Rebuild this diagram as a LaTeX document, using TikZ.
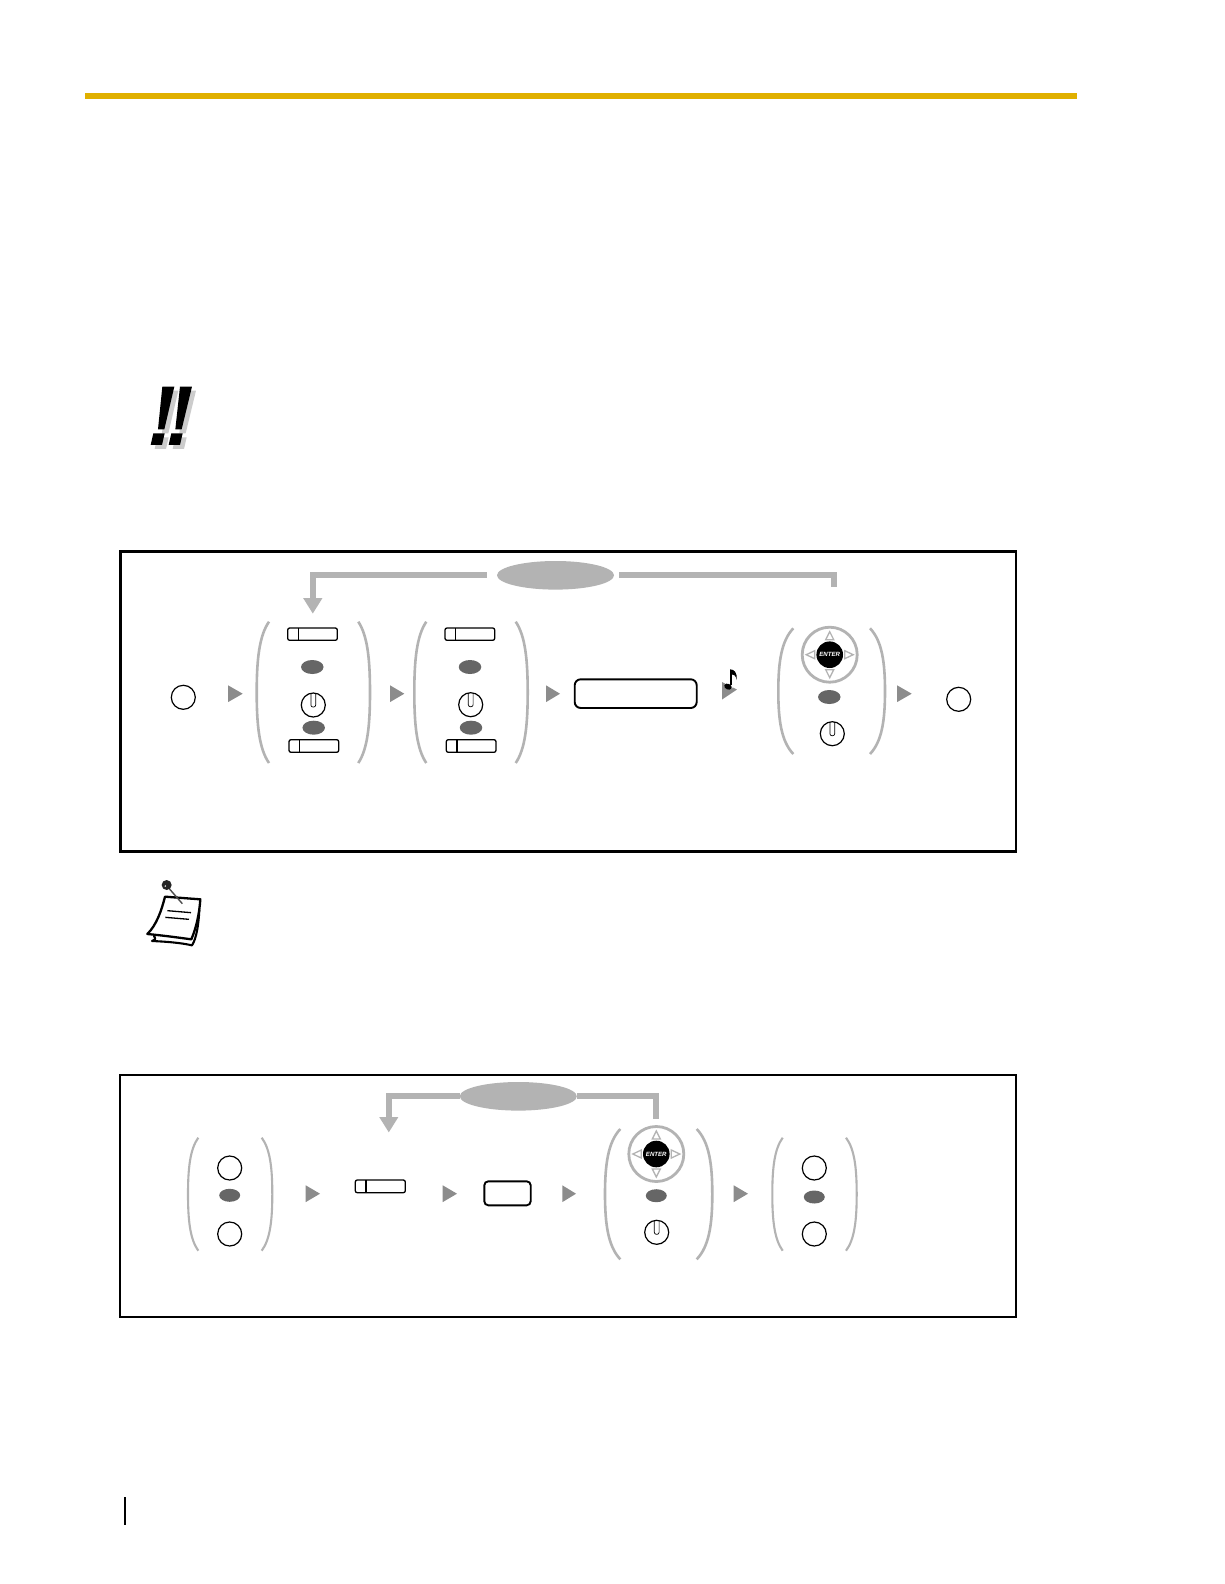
\documentclass[tikz,border=0pt]{standalone}
\usepackage{fontspec}
\setmainfont{Liberation Sans}
\usetikzlibrary{arrows.meta,shapes.geometric}
\definecolor{lightg}{HTML}{B3B3B3}
\definecolor{triang}{HTML}{8C8C8C}
\definecolor{ovalg}{HTML}{666666}
\definecolor{barg}{HTML}{E0B000}
\tikzset{
  framebox/.style={draw=black,line width=2.6pt,fill=none},
  framethin/.style={draw=black,line width=2pt,fill=none},
  keycircle/.style={circle,draw=black,line width=1.2pt,fill=white,minimum size=24pt,inner sep=0pt,outer sep=0pt},
  oval/.style={ellipse,fill=ovalg,minimum width=22.5pt,minimum height=14pt,inner sep=0pt,outer sep=0pt},
  repoval/.style={ellipse,fill=lightg,minimum width=117pt,minimum height=28.6pt,inner sep=0pt,outer sep=0pt},
  conn/.style={draw=lightg,line width=6pt},
  connhead/.style={-{Triangle[width=18pt,length=15.5pt]}},
  bracket/.style={draw=lightg,line width=2.6pt},
  softbtn/.style={draw=black,line width=1.3pt,fill=white,rounded corners=2pt},
  softdiv/.style={draw=black,line width=1.3pt},
  display/.style={draw=black,line width=1.9pt,fill=white,rounded corners=6pt},
  flowtri/.style={fill=triang},
  entertri/.style={draw=lightg,line width=1.3pt,fill=white,line join=miter},
}
% parenthesis pair: xl tip, xl extreme, xr tip, xr extreme, y top, y bottom
\newcommand\parenpair[6]{%
  \draw[bracket] (#1,#5) .. controls ({#2+0.2*(#1-#2)},{#5+0.10*(#6-#5)}) and (#2,{#5+0.27*(#6-#5)}) .. (#2,{(#5+#6)/2})
     .. controls (#2,{#6-0.27*(#6-#5)}) and ({#2+0.2*(#1-#2)},{#6-0.10*(#6-#5)}) .. (#1,#6);
  \draw[bracket] (#3,#5) .. controls ({#4+0.2*(#3-#4)},{#5+0.10*(#6-#5)}) and (#4,{#5+0.27*(#6-#5)}) .. (#4,{(#5+#6)/2})
     .. controls (#4,{#6-0.27*(#6-#5)}) and ({#4+0.2*(#3-#4)},{#6-0.10*(#6-#5)}) .. (#3,#6);
}
\newcommand\flowarrow[3]{\fill[flowtri] (#1,{#3-8.4}) -- (#2,#3) -- (#1,{#3+8.4}) -- cycle;}
% soft button: x1 x2 y1 y2 xdiv
\newcommand\softbutton[5]{%
  \draw[softbtn] (#1,#3) rectangle (#2,#4);
  \draw[softdiv] (#5,#3) -- (#5,#4);
}
% hold key: name x y
\newcommand\holdkey[3]{%
  \node[keycircle] (#1) at (#2,#3) {};
  \draw[draw=black,line width=.7pt,rounded corners=2pt] ({#2-2.4},{#3-11.6}) -- ({#2-2.4},{#3+2}) -- ({#2+2.4},{#3+2}) -- ({#2+2.4},{#3-11.6});
}
% enter key: name x y
\newcommand\enterkey[3]{%
  \node[circle,draw=lightg,line width=2.8pt,minimum size=55pt,inner sep=0pt,outer sep=0pt] (#1ring) at (#2,#3) {};
  \draw[entertri] ({#2-4},{#3-15}) -- ({#2+4},{#3-15}) -- (#2,{#3-23}) -- cycle;
  \draw[entertri] ({#2-4},{#3+15}) -- ({#2+4},{#3+15}) -- (#2,{#3+23}) -- cycle;
  \draw[entertri] ({#2-15},{#3-4}) -- ({#2-15},{#3+4}) -- ({#2-23.5},#3) -- cycle;
  \draw[entertri] ({#2+15},{#3-4}) -- ({#2+15},{#3+4}) -- ({#2+23.5},#3) -- cycle;
  \node[circle,fill=black,minimum size=26.6pt,inner sep=0pt,outer sep=0pt,text=white,font=\fontsize{6.1}{7}\selectfont\bfseries\itshape] (#1) at (#2,#3) {ENTER};
}
\begin{document}
\begin{tikzpicture}[x=1pt,y=-1pt]
\useasboundingbox (0,0) rectangle (1224,1584);
\fill[white] (0,0) rectangle (1224,1584);

% header bar and page mark
\fill[barg] (85,93) rectangle (1076.6,99);
\fill[black] (124,1497) rectangle (126,1525);

% exclamation icon
\begin{scope}[shift={(130,370)},x=.3333pt,y=-.3333pt]
  \begin{scope}[shift={(12,12)}]
  \fill[black!20] (97,50)--(133,50)--(103,178)--(84,178)--cycle (70,190)--(104,190)--(96,225)--(62,225)--cycle
     (150,50)--(186,50)--(155,178)--(136,178)--cycle (124,190)--(158,190)--(150,225)--(116,225)--cycle;
  \end{scope}
  \fill[black] (97,50)--(133,50)--(103,178)--(84,178)--cycle (70,190)--(104,190)--(96,225)--(62,225)--cycle
     (150,50)--(186,50)--(155,178)--(136,178)--cycle (124,190)--(158,190)--(150,225)--(116,225)--cycle;
\end{scope}

% note icon
\begin{scope}[shift={(130,860)},x=.3333pt,y=-.3333pt]
  \draw[black,line width=2.1pt,fill=white,line join=round] (72,228) .. controls (76,234) and (80,238) .. (66,243) .. controls (110,245) and (150,248) .. (186,256) .. controls (200,235) and (206,190) .. (208,150) -- (180,150) -- cycle;
  \draw[black,line width=2.3pt,fill=white,line join=round] (105,110) -- (211,118) .. controls (208,160) and (200,200) .. (184,238) .. controls (140,232) and (95,226) .. (52,222) .. controls (80,195) and (95,150) .. (105,110) -- cycle;
  \draw[black,line width=1.3pt] (112,152) -- (183,158) (106,172) -- (177,178);
  \draw[black!70,line width=1.4pt] (116,84) -- (157,131);
  \fill[black!85] (110,75) circle (15);
  \fill[white] (106,78) circle (2.5);
\end{scope}

% ---------- upper frame ----------
\draw[framebox] (120.3,551.3) rectangle (1016,851.3);
\node[repoval] (repa) at (555.5,575.3) {};
\coordinate (repaL) at (486.7,575.3);
\coordinate (repaR) at (619,575.3);
\coordinate (repaTo) at (312.8,613.7);
\coordinate (repaFrom) at (834.4,586.7);
\draw[conn,connhead] (repaL) -| (repaTo);
\draw[conn] (repaR) -| (repaFrom);

\node[keycircle] (starta) at (183.3,697.3) {};
\flowarrow{228}{242.7}{693.7}
\parenpair{269}{256.7}{358.3}{370}{621.7}{763}
\softbutton{287.7}{337.3}{628}{640.3}{298.3}
\node[oval] (ova) at (312.3,667) {};
\holdkey{hda}{313.3}{705}
\node[oval] (ovb) at (313.7,727.7) {};
\softbutton{289}{338.7}{739.7}{752.3}{299.7}

\flowarrow{390}{404.3}{693.7}
\parenpair{426.3}{414.3}{515.7}{527.7}{621.7}{763}
\softbutton{445}{494.7}{628}{640.3}{455.7}
\node[oval] (ovc) at (470,667) {};
\holdkey{hdb}{470.7}{704.7}
\node[oval] (ovd) at (471,727.7) {};
\softbutton{446.3}{496}{739.7}{752.3}{457}

\flowarrow{546}{560}{693.7}
\draw[display] (574.7,679.3) rectangle (696.7,708);

% arrow with tone note
\fill[flowtri] (722,682) -- (737,689.5) -- (722,699.5) -- cycle;
\begin{scope}[shift={(700,650)},x=.3333pt,y=-.3333pt]
  \draw[white,line width=1.5pt] (92,62) -- (92,100);
  \fill[white,rotate around={-25:(86,108)}] (86,108) ellipse [x radius=13,y radius=9];
  \draw[black,line width=2.2pt] (93,60) -- (93,106);
  \fill[black,rotate around={-25:(84,110)}] (84,110) ellipse [x radius=12,y radius=8.5];
  \fill[black] (90,58) .. controls (102,58) and (112,66) .. (110,90) .. controls (108,76) and (100,72) .. (92,72) -- cycle;
\end{scope}

\parenpair{793.3}{778.3}{870}{885}{628.3}{754}
\enterkey{enta}{829.7}{654.7}
\node[oval] (ove) at (829.3,697) {};
\holdkey{hdc}{832.3}{733.7}
\flowarrow{897}{911.7}{693.7}
\node[keycircle] (enda) at (958.7,699.3) {};

% ---------- lower frame ----------
\draw[framethin] (120,1075) rectangle (1016,1316.5);
\coordinate (repbTo) at (388.8,1132.5);
\coordinate (repbFrom) at (655.9,1118.7);
\node[repoval] (repb) at (518.3,1096.3) {};
\draw[conn,connhead] (repb.west) -| (repbTo);
\draw[conn] (repb.east) -| (repbFrom);

\tikzset{bracket/.append style={line width=2.1pt}}
\parenpair{198.3}{188}{261.7}{272.3}{1137.7}{1250.7}
\node[keycircle] (ca) at (229.7,1168) {};
\node[oval,minimum width=21pt,minimum height=13pt] (ovf) at (229.7,1195.3) {};
\node[keycircle] (cb) at (229.7,1234) {};
\flowarrow{305.7}{320}{1193.7}
\softbutton{355.3}{405.3}{1180}{1192.7}{366}
\flowarrow{442.7}{457}{1193.7}
\draw[display,rounded corners=4pt] (484.3,1181.3) rectangle (530.7,1205.3);
\flowarrow{562.3}{576}{1193.7}

\tikzset{bracket/.append style={line width=2.6pt}}
\parenpair{620.3}{605}{696.7}{712.3}{1129}{1259.3}
\enterkey{entb}{656.3}{1154}
\node[oval,minimum width=21pt,minimum height=13pt] (ovg) at (656.3,1195.7) {};
\holdkey{hdd}{656.7}{1232.3}
\flowarrow{733.7}{748}{1193.7}

\tikzset{bracket/.append style={line width=2.1pt}}
\parenpair{782.7}{772.3}{846}{856.7}{1137.7}{1250.7}
\node[keycircle] (cc) at (814.3,1168) {};
\node[oval,minimum width=21pt,minimum height=13pt] (ovh) at (814.3,1197) {};
\node[keycircle] (cd) at (814.3,1234) {};
\end{tikzpicture}
\end{document}
